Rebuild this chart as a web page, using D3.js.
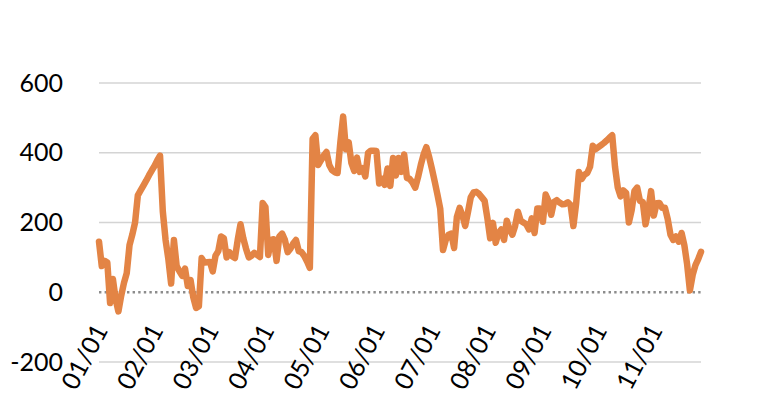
<!DOCTYPE html>
<html>
<head>
<meta charset="utf-8">
<script src="https://cdn.jsdelivr.net/npm/d3@7"></script>
<style>
  body { margin: 0; background: #fff; }
  .axis text { font-family: Lato, "Open Sans", sans-serif; font-size: 25px; fill: #000; }
</style>
</head>
<body>
<div id="chart"></div>
<script>
        // tick labels, one every 20 points
        var tickLabels = ["01/01", "02/01", "03/01", "04/01", "05/01", "06/01",
            "07/01", "08/01", "09/01", "10/01", "11/01"];
        var tickEvery = 20;

        var yTicks = [-200, 0, 200, 400, 600];

        var values = [
            145, 75, 90, 85, -31, 38, -20, -55, -10, 27,
            55, 135, 165, 200, 278, 292, 306, 320, 335, 349,
            362, 378, 392, 232, 150, 95, 25, 150, 75, 60,
            47, 68, 18, 35, -15, -45, -40, 98, 85, 86,
            87, 60, 105, 118, 160, 155, 100, 115, 103, 98,
            150, 195, 155, 125, 100, 105, 113, 107, 101, 256,
            244, 107, 150, 152, 90, 160, 168, 150, 115, 125,
            140, 150, 118, 115, 104, 88, 70, 440, 450, 365,
            378, 392, 402, 365, 350, 344, 342, 430, 504, 410,
            430, 370, 348, 386, 345, 356, 332, 400, 406, 406,
            405, 312, 326, 308, 355, 305, 385, 335, 385, 345,
            395, 328, 325, 315, 300, 330, 365, 395, 416, 388,
            354, 318, 280, 240, 121, 150, 165, 168, 127, 216,
            242, 220, 190, 230, 272, 286, 288, 282, 272, 262,
            212, 155, 199, 142, 170, 180, 150, 205, 180, 165,
            190, 231, 205, 200, 195, 180, 212, 170, 240, 240,
            202, 280, 262, 222, 259, 264, 257, 252, 253, 258,
            250, 190, 255, 345, 325, 337, 342, 360, 420, 410,
            416, 422, 428, 435, 443, 450, 360, 300, 275, 292,
            285, 200, 235, 290, 300, 262, 259, 195, 235, 290,
            220, 255, 256, 242, 242, 210, 165, 150, 160, 145,
            170, 135, 80, 5, 50, 78, 95, 116
        ];

        var margin = {
                top: 83,
                right: 65,
                bottom: 34,
                left: 99
            },
            width = 766 - margin.left - margin.right,
            height = 396 - margin.top - margin.bottom;

        var x = d3.scaleLinear()
            .domain([0, values.length - 1])
            .range([0, width]);

        var y = d3.scaleLinear()
            .domain([-200, 600])
            .range([height, 0]);

        var svg = d3.select("#chart").append("svg")
            .attr("width", 766)
            .attr("height", 396)
            .append("g")
            .attr("transform", "translate(" + margin.left + "," + margin.top + ")");

        // gridlines (zero line drawn dotted below)
        svg.append("g")
            .attr("class", "grid")
            .selectAll("line")
            .data(yTicks.filter(function (d) { return d !== 0; }))
            .enter().append("line")
            .attr("x1", 0)
            .attr("x2", width)
            .attr("y1", function (d) { return y(d); })
            .attr("y2", function (d) { return y(d); })
            .attr("stroke", "#d4d4d4")
            .attr("stroke-width", 1.6);

        svg.append("line")
            .attr("x1", 0)
            .attr("x2", width)
            .attr("y1", y(0))
            .attr("y2", y(0))
            .attr("stroke", "#8c8c8c")
            .attr("stroke-width", 2.4)
            .attr("stroke-dasharray", "2.4,3.2");

        var yAxis = d3.axisLeft(y)
            .tickValues(yTicks)
            .tickFormat(function (d) { return String(d); })
            .tickSize(0)
            .tickPadding(36);

        svg.append("g")
            .attr("class", "y axis")
            .call(yAxis)
            .call(function (g) { g.select(".domain").remove(); });

        var xAxis = d3.axisBottom(x)
            .tickValues(tickLabels.map(function (d, i) { return i * tickEvery; }))
            .tickFormat(function (d, i) { return tickLabels[i]; })
            .tickSize(0);

        svg.append("g")
            .attr("class", "x axis")
            .attr("transform", "translate(0," + (y(0) + 30) + ")")
            .call(xAxis)
            .call(function (g) { g.select(".domain").remove(); })
            .selectAll("text")
            .attr("dy", 0)
            .attr("y", 0)
            .attr("x", 0)
            .attr("transform", "translate(9,8) rotate(-62)")
            .style("text-anchor", "end");

        var line = d3.line()
            .x(function (d, i) { return x(i); })
            .y(function (d) { return y(d); });

        svg.append("path")
            .datum(values)
            .attr("fill", "none")
            .attr("stroke", "#e38445")
            .attr("stroke-width", 6.5)
            .attr("stroke-linejoin", "round")
            .attr("stroke-linecap", "round")
            .attr("d", line);
</script>
</body>
</html>
